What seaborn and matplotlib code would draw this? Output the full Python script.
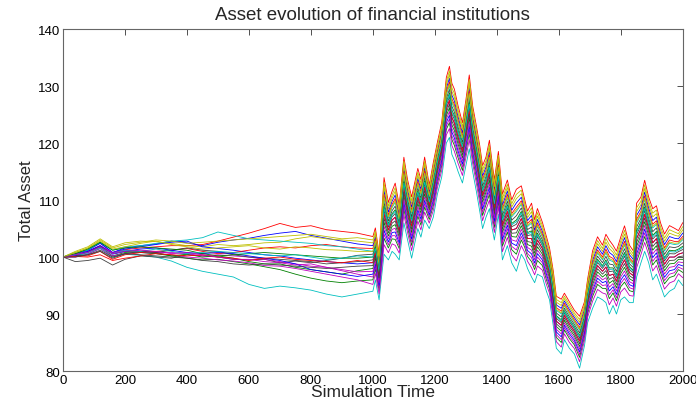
import numpy as np
import pandas as pd
import seaborn as sns
import matplotlib
matplotlib.use("Agg")
import matplotlib.pyplot as plt

# Before t=1000 every institution drifts on its own
pre_times = [0, 40, 80, 120, 160, 200, 250, 300, 350, 400, 450, 500, 550,
             600, 650, 700, 750, 800, 850, 900, 950, 1000]
pre_paths = [
    [100, 100.5, 101.2, 102.5, 100.8, 101.6, 102.0, 102.3, 102.8, 102.5, 102.0, 102.6, 103.0, 103.3, 103.8, 104.2, 104.5, 103.8, 103.3, 102.8, 102.3, 102.0],
    [100, 100.2, 100.8, 101.8, 100.2, 100.8, 101.0, 100.8, 100.2, 99.8, 99.5, 99.6, 99.2, 98.8, 98.3, 97.8, 97.0, 96.3, 95.8, 95.5, 95.8, 96.0],
    [100, 100.4, 101.0, 102.0, 100.6, 101.3, 101.6, 101.8, 102.0, 102.0, 102.2, 102.8, 103.5, 104.2, 105.0, 105.9, 105.2, 105.5, 104.8, 104.5, 104.2, 103.6],
    [100, 100.3, 100.6, 101.5, 100.0, 100.5, 100.3, 100.0, 99.3, 98.2, 97.5, 97.0, 96.5, 95.2, 94.5, 94.9, 94.6, 94.2, 93.5, 93.0, 93.5, 94.0],
    [100, 100.0, 100.5, 101.5, 100.2, 100.6, 100.8, 100.6, 100.4, 100.0, 99.8, 99.5, 99.3, 99.0, 98.5, 98.4, 98.0, 97.5, 97.0, 96.5, 96.0, 95.2],
    [100, 101.0, 101.8, 103.2, 101.8, 102.5, 102.8, 102.7, 102.4, 102.0, 101.8, 102.2, 102.0, 102.2, 102.5, 102.6, 103.2, 103.6, 103.2, 103.0, 102.8, 102.5],
    [100, 99.2, 99.4, 99.8, 98.6, 99.6, 100.2, 100.0, 99.8, 100.4, 100.2, 100.0, 99.6, 99.5, 99.6, 99.0, 99.3, 99.0, 99.4, 99.8, 100.3, 100.5],
    [100, 100.6, 101.2, 102.4, 100.8, 101.4, 101.8, 102.2, 102.6, 102.8, 101.8, 101.5, 101.2, 100.8, 100.4, 100.2, 99.8, 99.5, 99.2, 99.0, 98.8, 99.0],
    [100, 100.4, 100.9, 101.8, 100.6, 101.0, 100.8, 100.6, 100.2, 100.5, 100.0, 100.2, 99.8, 99.2, 98.8, 98.8, 98.2, 97.8, 97.4, 97.0, 97.6, 98.0],
    [100, 100.2, 100.2, 101.0, 99.6, 100.4, 100.8, 101.0, 101.2, 101.5, 101.0, 100.6, 100.8, 101.2, 101.6, 101.8, 101.6, 102.0, 102.2, 101.8, 101.6, 101.5],
    [100, 100.8, 101.2, 102.6, 101.2, 101.8, 102.0, 102.4, 102.8, 103.0, 103.4, 104.4, 103.8, 103.2, 103.0, 102.8, 102.6, 102.4, 102.0, 101.8, 101.4, 101.0],
    [100, 100.5, 101.0, 102.0, 100.8, 101.2, 101.0, 100.8, 100.8, 100.6, 100.2, 100.4, 100.2, 100.0, 99.6, 99.2, 98.8, 98.4, 98.2, 97.6, 97.0, 96.5],
    [100, 100.8, 101.5, 102.8, 101.4, 101.8, 102.4, 102.8, 102.2, 101.8, 101.4, 101.6, 101.8, 102.0, 101.6, 101.4, 101.8, 101.6, 101.3, 101.2, 101.0, 101.0],
    [100, 100.2, 100.4, 101.0, 99.8, 100.6, 101.0, 100.8, 101.2, 101.6, 101.2, 101.0, 100.4, 100.0, 99.8, 99.6, 99.4, 99.2, 98.8, 99.0, 99.2, 99.5],
    [100, 100.3, 101.0, 102.0, 100.5, 101.0, 101.4, 101.6, 101.2, 100.8, 100.6, 100.8, 100.6, 100.2, 99.8, 99.4, 98.8, 97.8, 97.4, 97.0, 96.6, 97.0],
    [100, 100.6, 101.4, 102.6, 101.2, 101.6, 101.8, 101.6, 101.4, 101.2, 100.6, 100.2, 100.4, 100.6, 100.8, 100.6, 100.4, 100.2, 100.0, 99.8, 99.8, 100.0],
    [100, 100.1, 100.0, 100.4, 99.4, 99.8, 100.2, 100.6, 100.4, 100.2, 100.4, 100.0, 99.8, 99.4, 99.8, 100.0, 99.6, 99.4, 99.2, 99.0, 99.4, 99.0],
    [100, 100.4, 100.8, 101.6, 100.6, 101.2, 101.0, 101.4, 101.0, 100.6, 100.8, 101.0, 100.8, 100.6, 100.4, 100.2, 100.4, 100.0, 99.6, 99.8, 100.2, 100.0],
    [100, 100.4, 100.8, 101.8, 100.6, 101.0, 101.2, 101.0, 100.6, 100.8, 100.4, 100.0, 99.6, 99.6, 99.2, 99.0, 98.6, 98.8, 98.2, 97.8, 97.4, 97.5],
    [100, 100.8, 101.6, 103.0, 101.6, 102.2, 102.6, 103.0, 102.8, 102.4, 102.6, 102.8, 103.0, 103.2, 103.4, 103.6, 103.8, 104.0, 103.6, 103.2, 103.4, 103.0],
    [100, 100.0, 100.4, 101.2, 100.0, 100.6, 100.4, 100.2, 100.0, 99.8, 99.4, 99.2, 98.8, 98.6, 98.8, 98.6, 98.4, 98.2, 98.0, 98.2, 98.4, 98.5],
]

# After the shock all institutions move together: top and bottom of the band
post_times = [1008, 1020, 1036, 1050, 1062, 1072, 1085, 1100, 1112, 1125, 1145, 1155,
              1167, 1182, 1195, 1208, 1222, 1237, 1247, 1255, 1263, 1275, 1289, 1300,
              1311, 1322, 1334, 1345, 1354, 1365, 1376, 1385, 1392, 1405, 1418, 1434,
              1448, 1463, 1479, 1490, 1499, 1512, 1522, 1531, 1547, 1560, 1570, 1582,
              1592, 1608, 1618, 1634, 1650, 1667, 1683, 1693, 1709, 1725, 1741, 1752,
              1763, 1775, 1786, 1800, 1812, 1828, 1840, 1851, 1865, 1877, 1890, 1903,
              1915, 1928, 1941, 1957, 1973, 1986, 2000]
band_top = [105.5, 101.0, 114.5, 110.0, 112.0, 113.5, 109.5, 118.0, 114.0, 111.0, 116.0, 114.0,
            118.0, 113.0, 117.0, 120.5, 124.0, 132.0, 134.0, 131.0, 130.0, 127.0, 124.0, 128.0,
            132.5, 127.0, 123.5, 120.0, 116.5, 118.0, 121.0, 117.0, 114.0, 119.0, 111.5, 114.0,
            110.5, 112.5, 113.0, 110.5, 108.5, 110.0, 107.0, 109.0, 106.5, 104.0, 102.0, 98.0,
            93.5, 93.0, 94.0, 92.5, 91.0, 90.0, 92.5, 96.5, 101.5, 104.0, 102.5, 104.5,
            103.5, 102.5, 101.5, 104.0, 106.0, 102.5, 101.5, 110.0, 111.0, 114.0, 111.0, 109.0,
            109.5, 106.5, 104.5, 106.0, 105.5, 105.0, 106.5]
band_bottom = [96.0, 92.5, 100.5, 99.5, 101.0, 100.5, 99.5, 106.0, 103.0, 99.8, 105.0, 103.5,
               106.5, 105.0, 107.0, 111.0, 114.0, 120.0, 121.0, 118.0, 117.0, 115.0, 113.0, 116.0,
               119.0, 115.0, 111.5, 108.0, 105.0, 107.0, 108.5, 105.0, 103.0, 107.5, 99.5, 102.0,
               99.0, 97.5, 100.5, 99.5, 98.0, 96.5, 95.5, 97.0, 96.5, 94.0, 92.5, 88.0,
               84.0, 83.0, 85.5, 84.0, 83.0, 80.5, 84.5, 88.5, 91.0, 93.0, 92.5, 92.0,
               90.0, 91.5, 90.0, 92.5, 93.0, 92.0, 92.0, 96.5, 99.0, 101.0, 99.0, 96.0,
               97.0, 95.0, 93.0, 94.0, 94.5, 96.0, 95.0]
# position of each institution inside the band after the shock (0 = bottom, 1 = top)
band_pos = [0.8, 0.2, 0.96, 0.0, 0.12, 0.85, 0.65, 0.5, 0.4, 0.75, 0.7,
            0.25, 0.72, 0.55, 0.3, 0.6, 0.5, 0.58, 0.35, 0.9, 0.45]

matlab_colors = [(0, 0, 1), (0, 0.5, 0), (1, 0, 0), (0, 0.75, 0.75),
                 (0.75, 0, 0.75), (0.75, 0.75, 0), (0.25, 0.25, 0.25)]

top = np.array(band_top)
bot = np.array(band_bottom)
rows = []
for i, path in enumerate(pre_paths):
    vals = list(path) + list(bot + band_pos[i] * (top - bot))
    for t, v in zip(pre_times + post_times, vals):
        rows.append((i, t, v))
df = pd.DataFrame(rows, columns=["inst", "time", "asset"])

sns.set_style("white")
plt.rcParams["font.family"] = ["Liberation Sans", "DejaVu Sans"]

fig = plt.figure(figsize=(6.96, 4.02), dpi=100)
ax = fig.add_axes([0.0905, 0.0746, 0.8905, 0.8504])
palette = [matlab_colors[i % 7] for i in range(len(pre_paths))]
sns.lineplot(data=df, x="time", y="asset", hue="inst", palette=palette,
             linewidth=0.6, legend=False, ax=ax, estimator=None)

ax.set_xlim(0, 2000)
ax.set_ylim(80, 140)
ax.set_xticks(range(0, 2001, 200))
ax.set_yticks(range(80, 141, 10))
ax.tick_params(direction="in", top=True, right=True, length=4, width=0.6,
               labelsize=9.5, colors="#333333", pad=2)
ax.tick_params(labelcolor="black")
for s in ax.spines.values():
    s.set_color("#666666")
    s.set_linewidth(0.8)
ax.set_title("Asset evolution of financial institutions", fontsize=13.5, pad=7)
ax.set_xlabel("Simulation Time", fontsize=12.5, labelpad=-1)
ax.set_ylabel("Total Asset", fontsize=12, labelpad=3)

fig.savefig("out.png", dpi=100)
